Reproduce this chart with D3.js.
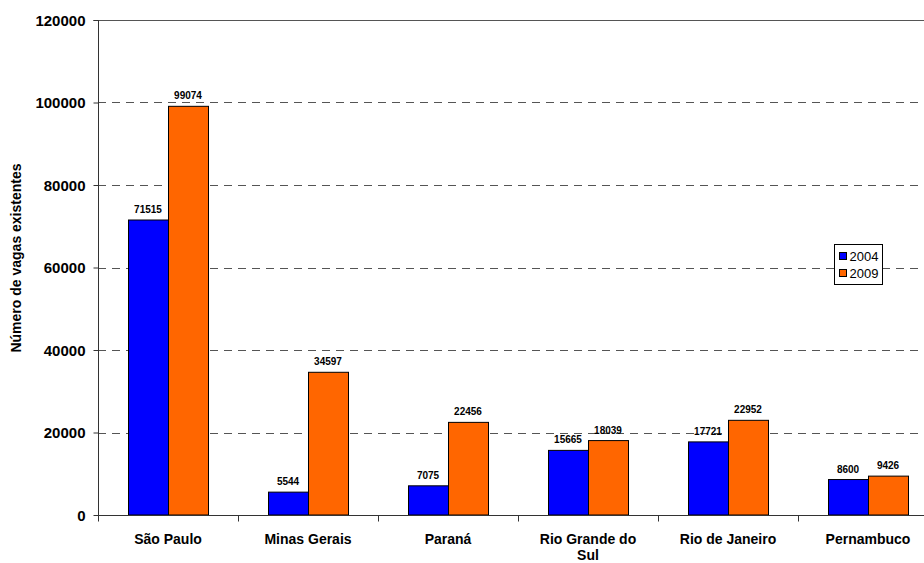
<!DOCTYPE html>
<html><head><meta charset="utf-8">
<script src="https://cdn.jsdelivr.net/npm/d3@7"></script>
<style>body{margin:0;background:#fff}svg{display:block;font-family:"Liberation Sans",Arial,sans-serif}</style>
</head><body><svg id="c" width="924" height="563"></svg>
<script>
const categories = ["São Paulo","Minas Gerais","Paraná","Rio Grande do Sul","Rio de Janeiro","Pernambuco"];
const values2004 = [71515,5544,7075,15665,17721,8600];
const values2009 = [99074,34597,22456,18039,22952,9426];
const seriesNames = ["2004","2009"];
const seriesColors = ["#0000FF","#FF6600"];
const yTicks = [0,20000,40000,60000,80000,100000,120000];

const svg = d3.select("#c");
const m = {l:98, t:20, r:938, b:515};
const x = d3.scaleBand().domain(categories).range([m.l,m.r]).paddingInner(0).paddingOuter(0);
const x1 = d3.scaleBand().domain(seriesNames).range([30,110]).paddingInner(0).paddingOuter(0);
const y = d3.scaleLinear().domain([0,120000]).range([m.b,m.t]);

// gridlines
svg.append("g").selectAll("line").data(yTicks.filter(d=>d>0 && d<120000)).join("line")
  .attr("x1",m.l).attr("x2",924).attr("y1",d=>Math.round(y(d))+0.5).attr("y2",d=>Math.round(y(d))+0.5)
  .attr("stroke","#555").attr("stroke-width",1).attr("stroke-dasharray","8,6");
// top border
svg.append("line").attr("x1",m.l).attr("x2",924).attr("y1",m.t+0.5).attr("y2",m.t+0.5).attr("stroke","#555");

const data = categories.map((c,i)=>({c, vals:[values2004[i],values2009[i]]}));
const groups = svg.append("g").selectAll("g").data(data).join("g")
  .attr("transform",d=>`translate(${x(d.c)},0)`);
groups.selectAll("rect").data(d=>d.vals.map((v,j)=>({v,s:seriesNames[j],j}))).join("rect")
  .attr("x",d=>x1(d.s)+0.5).attr("width",x1.bandwidth())
  .attr("y",d=>y(d.v)).attr("height",d=>m.b-y(d.v))
  .attr("fill",d=>seriesColors[d.j]).attr("stroke","#000").attr("stroke-width",1);
groups.selectAll("text").data(d=>d.vals.map((v,j)=>({v,s:seriesNames[j],j}))).join("text")
  .attr("x",d=>x1(d.s)+x1.bandwidth()/2).attr("y",d=>y(d.v)-7)
  .attr("text-anchor","middle").attr("font-size","10px").attr("font-weight","bold").text(d=>d.v);

// y axis
const yAxis = d3.axisLeft(y).tickValues(yTicks).tickSize(5).tickFormat(d3.format("d"));
const ya = svg.append("g").attr("transform",`translate(${m.l+0.5},0)`).call(yAxis);
ya.select(".domain").attr("stroke","#333").attr("d",`M-5,${m.t+0.5}H0V${m.b}`);
ya.selectAll(".tick line").attr("stroke","#333");
ya.selectAll(".tick text").attr("font-size","15px").attr("font-weight","bold").attr("fill","#000")
  .attr("font-family","Liberation Sans, Arial, sans-serif").attr("x",-13).attr("dy","0.35em");

// x axis
const xa = svg.append("g").attr("transform",`translate(0,${m.b+0.5})`);
xa.append("line").attr("x1",m.l).attr("x2",924).attr("stroke","#333");
xa.selectAll("line.t").data(categories).join("line").attr("class","t")
  .attr("x1",d=>Math.round(x(d))+0.5).attr("x2",d=>Math.round(x(d))+0.5).attr("y1",0).attr("y2",6).attr("stroke","#333");
const xl = xa.selectAll("text").data(categories).join("text")
  .attr("text-anchor","middle").attr("font-size","14px").attr("font-weight","bold");
xl.each(function(d){
  const t = d3.select(this);
  const cx = x(d)+x.bandwidth()/2;
  const lines = d==="Rio Grande do Sul" ? ["Rio Grande do","Sul"] : [d];
  lines.forEach((ln,i)=>t.append("tspan").attr("x",cx).attr("y",28+i*16).text(ln));
});

// y title
svg.append("text").attr("transform",`translate(21,258) rotate(-90)`).attr("text-anchor","middle")
  .attr("font-size","14px").attr("font-weight","bold").text("Número de vagas existentes");

// legend
const lg = svg.append("g").attr("transform","translate(834.5,244.5)");
lg.append("rect").attr("width",48).attr("height",40).attr("fill","#fff").attr("stroke","#000");
seriesNames.forEach((s,i)=>{
  lg.append("rect").attr("x",5).attr("y",8+i*17).attr("width",7).attr("height",7).attr("fill",seriesColors[i]).attr("stroke","#000");
  lg.append("text").attr("x",15).attr("y",12+i*17).attr("dy","0.35em").attr("font-size","13px").text(s);
});
</script></body></html>
